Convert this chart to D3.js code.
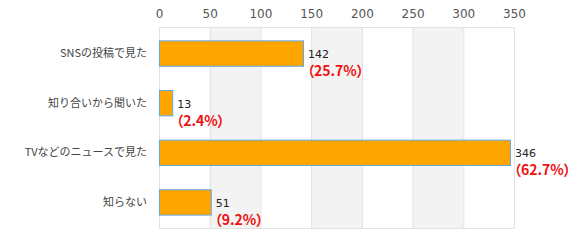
<!DOCTYPE html>
<html>
<head>
<meta charset="utf-8">
<script src="https://cdn.jsdelivr.net/npm/d3@7"></script>
<style>
	body { margin: 0; background: #fff; }
	svg { display: block; font-family: "Noto Sans CJK JP", "Noto Sans", sans-serif; }
</style>
</head>
<body>
<div id="chart"></div>
<script>
// Chart data
const categories = ['SNSの投稿で見た', '知り合いから聞いた', 'TVなどのニュースで見た', '知らない'];
const counts = [142, 13, 346, 51];
const percents = ['25.7%', '2.4%', '62.7%', '9.2%'];
const ticks = [0, 50, 100, 150, 200, 250, 300, 350];

const width = 580;
const height = 249;
const margin = { top: 27, left: 159, right: 66, bottom: 21 };

const innerW = width - margin.left - margin.right;
const innerH = height - margin.top - margin.bottom;

const xScale = d3.scaleLinear()
	.domain([0, 350])
	.range([0, innerW]);

const yScale = d3.scaleBand()
	.domain(d3.range(categories.length))
	.range([0, innerH])
	.paddingInner(0.49)
	.paddingOuter(0.27);

const svg = d3.select('#chart')
	.append('svg')
	.attr('width', width)
	.attr('height', height);

const body = svg.append('g')
	.attr('transform', `translate(${margin.left}, ${margin.top})`);

// Alternating background bands
body.selectAll('rect.band')
	.data(d3.range(ticks.length - 1).filter(i => i % 2 === 1))
	.enter()
	.append('rect')
	.attr('class', 'band')
	.attr('x', i => xScale(ticks[i]))
	.attr('y', 0)
	.attr('width', i => xScale(ticks[i + 1]) - xScale(ticks[i]))
	.attr('height', innerH)
	.attr('fill', '#f3f3f3');

// Grid lines
body.selectAll('line.grid')
	.data(ticks)
	.enter()
	.append('line')
	.attr('class', 'grid')
	.attr('x1', d => xScale(d) + 0.5)
	.attr('x2', d => xScale(d) + 0.5)
	.attr('y1', 0)
	.attr('y2', innerH)
	.attr('stroke', '#e2e2e2')
	.attr('stroke-width', 1);

// Top and bottom frame lines
[0, innerH].forEach(y => {
	body.append('line')
		.attr('x1', 0)
		.attr('x2', xScale(350) + 1)
		.attr('y1', y + 0.5)
		.attr('y2', y + 0.5)
		.attr('stroke', '#e2e2e2');
});

// Top axis
const xAxis = d3.axisTop(xScale)
	.tickValues(ticks)
	.tickSize(0)
	.tickPadding(9);

const axisG = body.append('g').call(xAxis);
axisG.select('.domain').remove();
axisG.selectAll('text')
	.attr('fill', '#555')
	.style('font-size', '12px')
	.style('font-family', '"DejaVu Sans", sans-serif');

// Bars
body.selectAll('rect.bar')
	.data(counts)
	.enter()
	.append('rect')
	.attr('class', 'bar')
	.attr('x', 0.5)
	.attr('y', (d, i) => yScale(i) + 0.5)
	.attr('width', d => xScale(d))
	.attr('height', yScale.bandwidth())
	.attr('fill', '#ffa500')
	.attr('stroke', '#5fa8e6')
	.attr('stroke-width', 1);

// Category labels
body.selectAll('text.cat')
	.data(categories)
	.enter()
	.append('text')
	.attr('class', 'cat')
	.attr('x', -12)
	.attr('y', (d, i) => yScale(i) + yScale.bandwidth() / 2)
	.attr('dy', '0.35em')
	.attr('text-anchor', 'end')
	.attr('fill', '#444')
	.style('font-size', '11px')
	.text(d => d);

// Value labels
body.selectAll('text.val')
	.data(counts)
	.enter()
	.append('text')
	.attr('class', 'val')
	.attr('x', d => xScale(d) + 5)
	.attr('y', (d, i) => yScale(i) + yScale.bandwidth() / 2 + 1)
	.attr('dy', '0.35em')
	.attr('fill', '#222')
	.style('font-size', '11px')
	.style('font-family', '"DejaVu Sans", sans-serif')
	.text(d => d);

// Percent labels
body.selectAll('text.pct')
	.data(percents)
	.enter()
	.append('text')
	.attr('class', 'pct')
	.attr('x', (d, i) => xScale(counts[i]) + 4)
	.attr('y', (d, i) => yScale(i) + yScale.bandwidth() / 2 + 18)
	.attr('dy', '0.35em')
	.attr('fill', '#ee1111')
	.style('font-size', '14px')
	.style('font-weight', 'bold')
	.style('font-feature-settings', '"palt"')
	.text(d => `（${d}）`);
</script>
</body>
</html>
